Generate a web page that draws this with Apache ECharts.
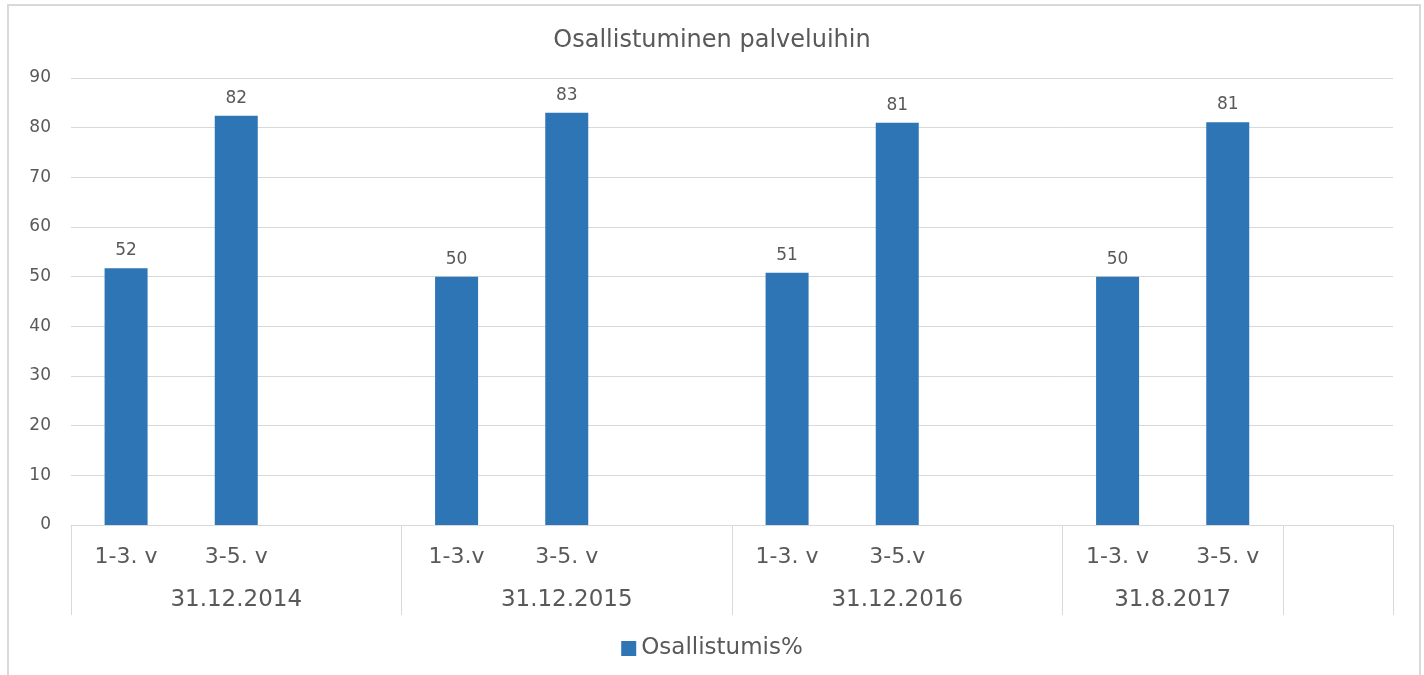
<!DOCTYPE html>
<html>
<head>
<meta charset="utf-8">
<script src="https://cdn.jsdelivr.net/npm/echarts@6/dist/echarts.min.js"></script>
<style>
  html, body { margin: 0; padding: 0; background: #fff; }
  #chart { width: 1424px; height: 675px; }
</style>
</head>
<body>
<div id="chart"></div>
<script>
const categories = ['1-3. v', '3-5. v', '', '1-3.v', '3-5. v', '', '1-3. v', '3-5.v', '', '1-3. v', '3-5. v', ''];
const values = [51.7, 82.4, null, 50, 83, null, 50.8, 81, null, 50, 81.1, null];
const groups = ['31.12.2014', '31.12.2015', '31.12.2016', '31.8.2017'];
const groupBounds = [0, 3, 6, 9, 11, 12];
const groupCenters = [1.5, 4.5, 7.5, 10];
const yTicks = [0, 10, 20, 30, 40, 50, 60, 70, 80, 90];

const FONT = 'DejaVu Sans';
const TEXT = '#595959';
const LINE = '#d9d9d9';

const chart = echarts.init(document.getElementById('chart'));

// Excel-like two level category axis: bars on a category axis,
// group labels and separator ticks on a hidden value axis over it
const option = {
    animation: false,
    backgroundColor: '#fff',
    textStyle: { fontFamily: FONT },
    graphic: [{
        type: 'rect',
        shape: { x: 8, y: 5, width: 1412, height: 690 },
        style: { fill: 'none', stroke: LINE, lineWidth: 2 },
        silent: true
    }],
    title: {
        text: 'Osallistuminen palveluihin',
        left: 'center',
        top: 24,
        textStyle: { fontSize: 24, fontWeight: 'normal', color: TEXT, fontFamily: FONT }
    },
    legend: {
        data: ['Osallistumis%'],
        left: 'center',
        top: 632,
        icon: 'rect',
        itemWidth: 15,
        itemHeight: 15,
        itemGap: 8,
        textStyle: { fontSize: 23, color: TEXT, fontFamily: FONT }
    },
    grid: { left: 71, right: 31, top: 78, bottom: 150 },
    xAxis: [
        {
            type: 'category',
            data: categories,
            position: 'bottom',
            axisLine: { lineStyle: { color: LINE, width: 1 } },
            axisTick: { show: false },
            axisLabel: { interval: 0, margin: 21, fontSize: 22, color: TEXT, fontFamily: FONT }
        },
        {
            type: 'value',
            position: 'bottom',
            min: 0,
            max: 12,
            axisLine: { show: false },
            splitLine: { show: false },
            axisTick: {
                show: true,
                length: 90,
                customValues: groupBounds,
                lineStyle: { color: LINE, width: 1 }
            },
            axisLabel: {
                margin: 64,
                fontSize: 23,
                color: TEXT,
                fontFamily: FONT,
                customValues: groupCenters,
                formatter: (v) => groups[groupCenters.indexOf(v)] || ''
            }
        }
    ],
    yAxis: {
        type: 'value',
        min: yTicks[0],
        max: yTicks[yTicks.length - 1],
        interval: 10,
        axisLine: { show: false },
        axisTick: { show: false },
        splitLine: { lineStyle: { color: LINE, width: 1 } },
        axisLabel: { margin: 20, fontSize: 17, color: TEXT, fontFamily: FONT }
    },
    series: [
        {
            name: 'Osallistumis%',
            type: 'bar',
            xAxisIndex: 0,
            data: values,
            barWidth: 43,
            itemStyle: { color: '#2E75B6' },
            label: {
                show: true,
                position: 'top',
                distance: 9,
                fontSize: 17,
                color: TEXT,
                fontFamily: FONT,
                formatter: (p) => Math.round(p.value)
            }
        }
    ]
};

chart.setOption(option);
</script>
</body>
</html>
